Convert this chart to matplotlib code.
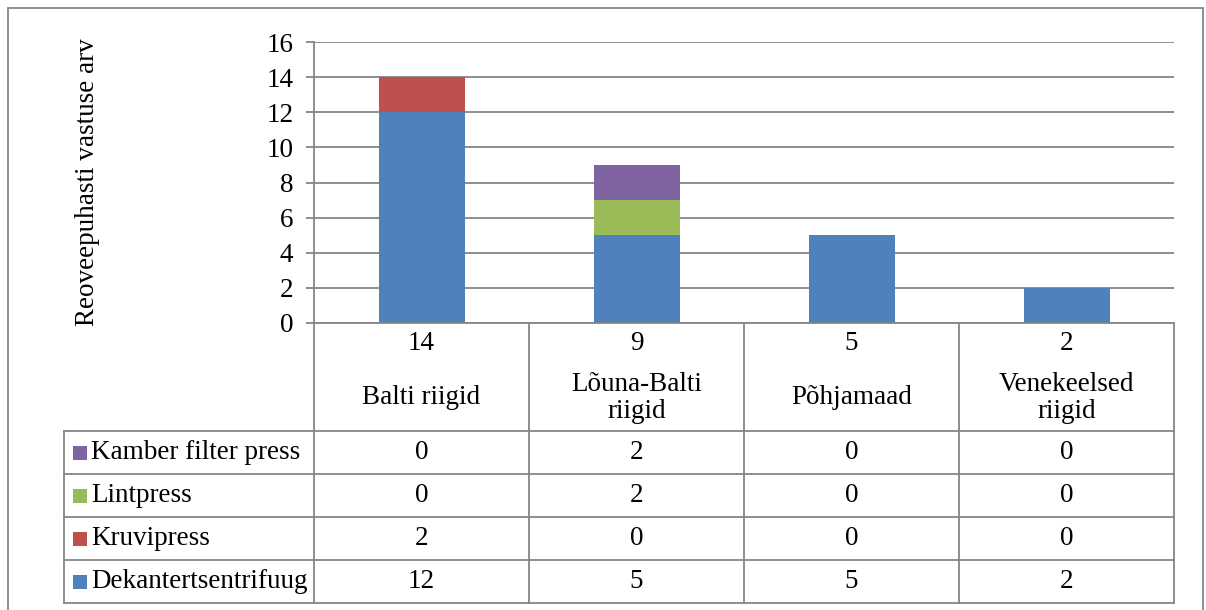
import matplotlib.pyplot as plt
from matplotlib.patches import Rectangle
from matplotlib.lines import Line2D

plt.rcParams['font.family'] = ['Liberation Serif', 'DejaVu Serif']

regions = ['Balti riigid', 'Lõuna-Balti\nriigid', 'Põhjamaad', 'Venekeelsed\nriigid']
series = ['Dekantertsentrifuug', 'Kruvipress', 'Lintpress', 'Kamber filter press']
colors = ['#4F81BD', '#C0504D', '#9BBB59', '#8064A2']
dekanter = [12, 5, 5, 2]
kruvipress = [2, 0, 0, 0]
lintpress = [0, 2, 0, 0]
kamber = [0, 2, 0, 0]
values = [dekanter, kruvipress, lintpress, kamber]
totals = [sum(v) for v in zip(*values)]

W, H = 1206, 610
fig = plt.figure(figsize=(W / 100, H / 100), dpi=100)
grid_col = '#868686'
fs = 19.5
lw = 1.3


def fx(px):
    return px / W


def fy(py):
    return 1 - py / H


# plot area in pixel coordinates
x0, x1, y_top, y_bot = 314, 1174, 42, 323
ax = fig.add_axes([fx(x0), fy(y_bot), fx(x1) - fx(x0), fy(y_top) - fy(y_bot)])

xs = range(len(regions))
bottom = [0] * len(regions)
for vals, col in zip(values, colors):
    ax.bar(xs, vals, width=0.4, bottom=bottom, color=col, zorder=3)
    bottom = [b + v for b, v in zip(bottom, vals)]

ax.set_xlim(-0.5, len(regions) - 0.5)
ax.set_ylim(0, 16)
ax.set_yticks(range(0, 17, 2))
ax.yaxis.grid(True, color=grid_col, linewidth=lw)
ax.set_axisbelow(True)
ax.set_xticks([])
for s in ['top', 'right', 'bottom']:
    ax.spines[s].set_visible(False)
ax.spines['left'].set_color(grid_col)
ax.spines['left'].set_linewidth(lw)
ax.tick_params(axis='y', length=5.8, width=lw, color=grid_col, labelsize=fs, pad=9)

fig.text(fx(88), fy(182), 'Reoveepuhasti vastuse arv', rotation=90,
         ha='center', va='center', fontsize=fs)

# data table under the axis
col_w = (x1 - x0) / len(regions)
row_h = 43
head_bot = 431
tab_left = 64


def hline(xa, xb, y):
    fig.add_artist(Line2D([fx(xa), fx(xb)], [fy(y), fy(y)], color=grid_col, lw=lw))


def vline(x, ya, yb):
    fig.add_artist(Line2D([fx(x), fx(x)], [fy(ya), fy(yb)], color=grid_col, lw=lw))


for i in range(len(regions) + 1):
    vline(x0 + i * col_w, y_bot, head_bot + row_h * len(series))
vline(tab_left, head_bot, head_bot + row_h * len(series))
for r in range(len(series) + 1):
    hline(tab_left, x1, head_bot + r * row_h)
hline(x0, x1, y_bot)

for i, (name, tot) in enumerate(zip(regions, totals)):
    cx = x0 + (i + 0.5) * col_w
    fig.text(fx(cx), fy(344), str(tot), ha='center', va='center', fontsize=fs)
    fig.text(fx(cx), fy(398), name, ha='center', va='center', fontsize=fs,
             linespacing=1.12)

# rows listed top to bottom in reverse stacking order
for r, k in enumerate(reversed(range(len(series)))):
    cy = head_bot + (r + 0.5) * row_h
    fig.add_artist(Rectangle((fx(73), fy(cy + 7)), fx(14), fy(cy - 7) - fy(cy + 7),
                             facecolor=colors[k], edgecolor='none'))
    fig.text(fx(91), fy(cy), series[k], ha='left', va='center', fontsize=fs)
    for i, v in enumerate(values[k]):
        fig.text(fx(x0 + (i + 0.5) * col_w), fy(cy), str(v), ha='center',
                 va='center', fontsize=fs)

# chart border
fig.add_artist(Rectangle((fx(8), fy(612)), fx(1203 - 8), fy(8) - fy(612),
                         fill=False, edgecolor=grid_col, lw=lw))

fig.savefig('out.png', dpi=100)
